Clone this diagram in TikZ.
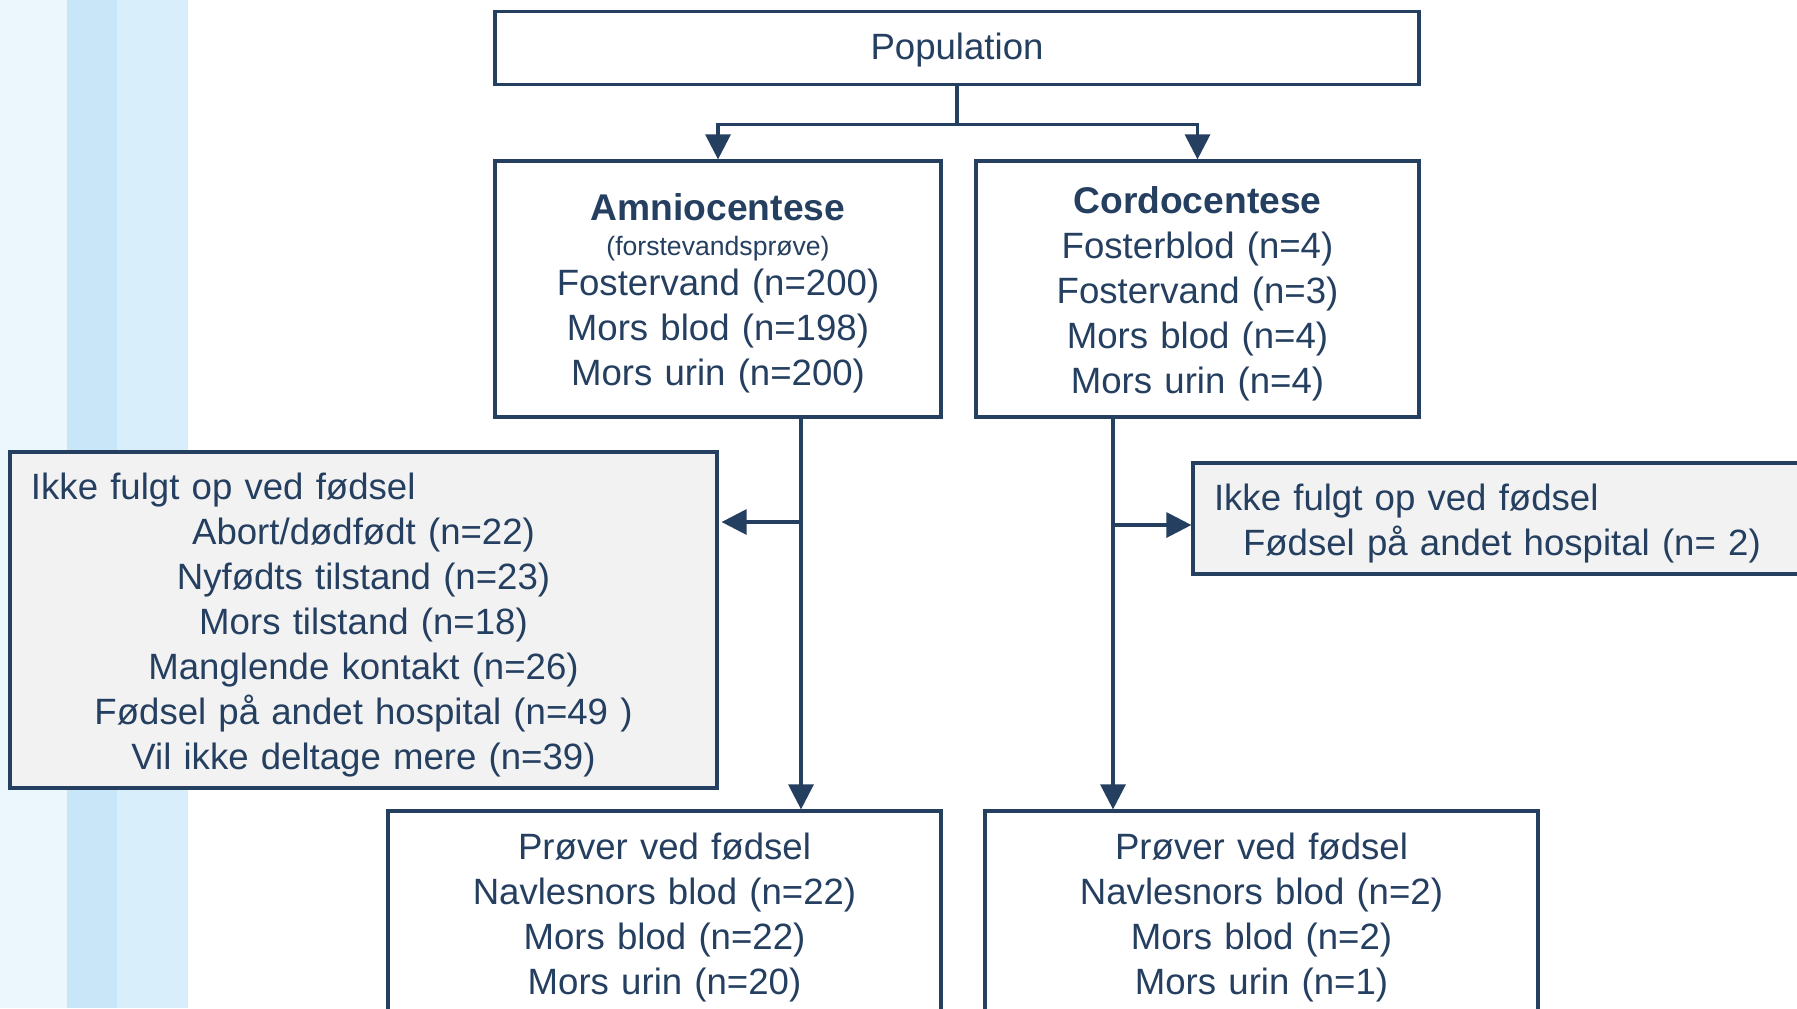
\documentclass[tikz,border=0pt]{standalone}
\usepackage{fontspec}
\setmainfont{Liberation Sans}
\usepackage{tikz}
\usetikzlibrary{arrows.meta}
\definecolor{navy}{RGB}{37,63,96}
\definecolor{greybox}{RGB}{242,242,242}
\definecolor{stripeA}{RGB}{235,246,253}
\definecolor{stripeB}{RGB}{201,230,249}
\definecolor{stripeC}{RGB}{216,238,250}
\newcommand{\padtop}{\rule{0pt}{18pt}}
\newcommand{\headfont}{\fontsize{18.6}{22.5}\selectfont\bfseries}

\begin{document}
\begin{tikzpicture}[x=0.5pt,y=-0.5pt,
      box_main/.style={
         draw=navy,
         line width=1.6pt,
         fill=white,
         text=navy,
         inner sep=0pt,
         align=center,
         font=\fontsize{18.3}{22.5}\selectfont},
      box_grey/.style={
         box_main,
         fill=greybox},
      line_navy/.style={
         draw=navy,
         line width=1.6pt},
      arrow_navy/.style={
         line_navy,
         -{Triangle[width=12.5pt,length=12.5pt]}}
]
      \useasboundingbox (0,0) rectangle (1797,1008);
      %stripes
      \fill[stripeA] (0,0) rectangle (67,1008);
      \fill[stripeB] (67,0) rectangle (117,1008);
      \fill[stripeC] (117,0) rectangle (188,1008);

      %population and tests
      \node[box_main,text width=462pt,minimum height=36.5pt] (pop) at (957,48) {\rule{0pt}{15.7pt}Population};
      \node[box_main,text width=223pt,minimum height=128pt] (amnio) at (718,289)
         {\padtop{\headfont Amniocentese}\\[-5pt]{\fontsize{13.3}{16}\selectfont (forstevandsprøve)}\\[-2.4pt]Fostervand (n=200)\\Mors blod (n=198)\\Mors urin (n=200)};
      \node[box_main,text width=221.5pt,minimum height=128pt] (cordo) at (1197.5,289)
         {\padtop{\headfont Cordocentese}\\Fosterblod (n=4)\\Fostervand (n=3)\\Mors blod (n=4)\\Mors urin (n=4)};

      %lost to follow up
      \node[box_grey,text width=353.5pt,minimum height=168pt] (amdrop) at (363.5,620)
         {\makebox[353.5pt][l]{\hspace{10.5pt}\padtop Ikke fulgt op ved fødsel}\\Abort/dødfødt (n=22)\\Nyfødts tilstand (n=23)\\Mors tilstand (n=18)\\Manglende kontakt (n=26)\\Fødsel på andet hospital (n=49 )\\Vil ikke deltage mere (n=39)};
      \node[box_grey,align=left,inner xsep=10.5pt,text width=297.5pt,minimum height=55.5pt] (cddrop) at (1511.5,518.5)
         {\padtop Ikke fulgt op ved fødsel\\\hspace*{14.5pt}Fødsel på andet hospital (n= 2)};

      %samples at birth
      \node[box_main,text width=276.5pt,minimum height=101.5pt] (amprv) at (664.5,912.5)
         {\padtop Prøver ved fødsel\\Navlesnors blod (n=22)\\Mors blod (n=22)\\Mors urin (n=20)};
      \node[box_main,text width=276.5pt,minimum height=101.5pt] (cdprv) at (1261.5,912.5)
         {\padtop Prøver ved fødsel\\Navlesnors blod (n=2)\\Mors blod (n=2)\\Mors urin (n=1)};

      %connectors
      \draw[line_navy] (pop.south) -- ++(0,38) coordinate (fork);
      \foreach \j in {amnio,cordo}
        \draw[arrow_navy] (fork) -| (\j.north);

      \coordinate (amline) at (801,0);
      \coordinate (cdline) at (1113,0);
      \coordinate (amout) at (801,522);
      \coordinate (cdout) at (1113,525);

      \foreach \i/\j/\k in {% start node/end node/line
        amnio/amprv/amline,
        cordo/cdprv/cdline}
        \draw[arrow_navy] (\i.south -| \k) -- (\j.north -| \k);

      \draw[arrow_navy,shorten >=1.5pt] (amout) -- (amout -| amdrop.east);
      \draw[arrow_navy] (cdout) -- (cdout -| cddrop.west);

\end{tikzpicture}
\end{document}
